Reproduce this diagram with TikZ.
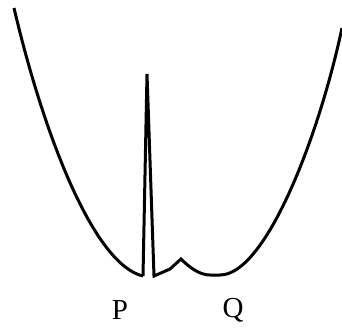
\documentclass[tikz,border=0pt]{standalone}
\usepackage{fontspec}
\setmainfont{Liberation Serif}
\begin{document}
\begin{tikzpicture}[x=1pt,y=-1pt,
  curve/.style={line width=3pt,line join=round,line cap=butt},
  lbl/.style={font=\fontsize{29}{33}\selectfont,inner sep=0pt}]
\useasboundingbox (0,0) rectangle (342,332);
\coordinate (A) at (14,8);
\coordinate (B) at (143,276);
\coordinate (T) at (147,74);
\coordinate (C) at (154,276);
\coordinate (D) at (170,269);
\coordinate (E) at (181,259);
\coordinate (F) at (210,275);
\coordinate (G) at (220,275);
\coordinate (H) at (342,28);
\draw[curve] (A) .. controls (45,140) and (95,265) .. (B);
\draw[curve,line join=miter] (B) -- (T) -- (C) -- (D) -- (E)
  .. controls (190,268) and (200,275) .. (F) -- (G)
  .. controls (265,275) and (318,140) .. (H);
\node[lbl] (P) at (120,310) {P};
\node[lbl] (Q) at (233,310) {Q};
\end{tikzpicture}
\end{document}
